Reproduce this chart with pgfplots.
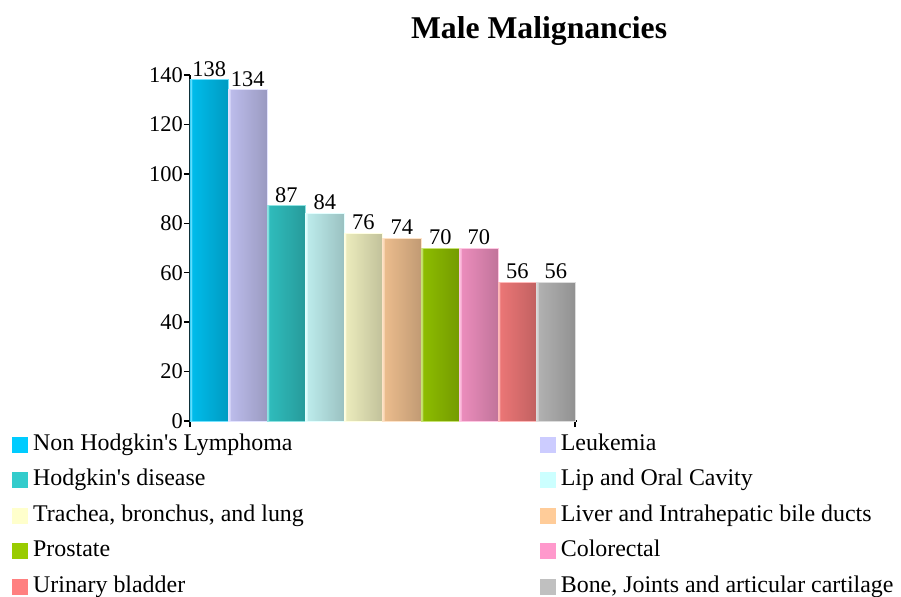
\documentclass[border=0pt]{standalone}
\usepackage{pgfplots}
\pgfplotsset{compat=1.18}
\usepackage{fontspec}
\setmainfont{Liberation Serif}

\definecolor{c1}{HTML}{00CCFF}
\definecolor{c2}{HTML}{CCCCFF}
\definecolor{c3}{HTML}{33CCCC}
\definecolor{c4}{HTML}{CCFFFF}
\definecolor{c5}{HTML}{FFFFCC}
\definecolor{c6}{HTML}{FFCC99}
\definecolor{c7}{HTML}{99CC00}
\definecolor{c8}{HTML}{FF99CC}
\definecolor{c9}{HTML}{FF8080}
\definecolor{c10}{HTML}{C0C0C0}
\colorlet{barc}{c1}

% cylinder-like shading, takes its colour from barc when used
\pgfdeclarehorizontalshading[barc]{cyl}{100bp}{%
  color(0bp)=(barc!90!black); color(8bp)=(barc);
  color(24bp)=(barc!94!black); color(26bp)=(barc!55!white); color(28bp)=(barc!92!black);
  color(80bp)=(barc!74!black); color(84bp)=(barc!60!white); color(86bp)=(barc!72!black);
  color(100bp)=(barc!62!black)}

\pgfplotsset{
  cyl/.style={ybar, bar width=1, bar shift=0, line width=1bp,
    draw=#1!55!white, /utils/exec={\colorlet{barc}{#1}}, shade, shading=cyl},
}
\newcommand{\lbl}{\fontsize{22.5}{27}\selectfont}
\newcommand{\q}{\textquotesingle}

\begin{document}
\begin{tikzpicture}
\path[use as bounding box] (-190bp,-176bp) rectangle (711bp,421bp);
\begin{axis}[
  scale only axis,
  width=387bp, height=346bp,
  xmin=0, xmax=10.05, ymin=0, ymax=140,
  axis lines=left,
  axis line style={line width=1.5bp, -},
  ytick={0,20,...,140},
  xtick={0,10}, xticklabels={},
  tick align=outside,
  major tick length=6bp,
  tick style={line width=1.5bp, black},
  ticklabel style={font=\lbl},
  /pgf/number format/assume math mode=true,
  yticklabel style={inner sep=1bp},
  title={Male Malignancies},
  title style={font=\bfseries\fontsize{31.8}{38}\selectfont,
    at={(axis description cs:0.902,1.11)}, anchor=center},
  nodes near coords,
  every node near coord/.append style={font=\lbl, text=black,
    anchor=south, inner sep=3bp},
  legend columns=2,
  legend cell align=left,
  legend image code/.code={\fill[draw=none, #1] (0bp,-8bp) rectangle (16bp,8bp);},
  legend style={draw=none, fill=none, font=\fontsize{24}{29}\selectfont,
    at={(axis description cs:-0.46,-0.038)}, anchor=north west,
    inner sep=0pt,
    nodes={inner sep=0pt, text height=16bp, text depth=5bp},
    row sep=14.5bp,
    /tikz/every odd column/.append style={column sep=5bp},
    /tikz/every even column/.append style={column sep=236bp}},
]
% one bar per malignancy
\addplot[cyl=c1, forget plot] coordinates {(0.5,138)};
\addplot[cyl=c2, forget plot] coordinates {(1.5,134)};
\addplot[cyl=c3, forget plot] coordinates {(2.5,87)};
\addplot[cyl=c4, forget plot] coordinates {(3.5,84)};
\addplot[cyl=c5, forget plot] coordinates {(4.5,76)};
\addplot[cyl=c6, forget plot] coordinates {(5.5,74)};
\addplot[cyl=c7, forget plot] coordinates {(6.5,70)};
\addplot[cyl=c8, forget plot] coordinates {(7.5,70)};
\addplot[cyl=c9, forget plot] coordinates {(8.5,56)};
\addplot[cyl=c10, forget plot] coordinates {(9.5,56)};

% flat legend squares
\addlegendimage{fill=c1}
\addlegendimage{fill=c2}
\addlegendimage{fill=c3}
\addlegendimage{fill=c4}
\addlegendimage{fill=c5}
\addlegendimage{fill=c6}
\addlegendimage{fill=c7}
\addlegendimage{fill=c8}
\addlegendimage{fill=c9}
\addlegendimage{fill=c10}
\legend{Non Hodgkin\q s Lymphoma, Leukemia, Hodgkin\q s disease, Lip and Oral Cavity,
  {Trachea, bronchus, and lung}, Liver and Intrahepatic bile ducts,
  Prostate, Colorectal, Urinary bladder, {Bone, Joints and articular cartilage}}
\end{axis}
\end{tikzpicture}
\end{document}
